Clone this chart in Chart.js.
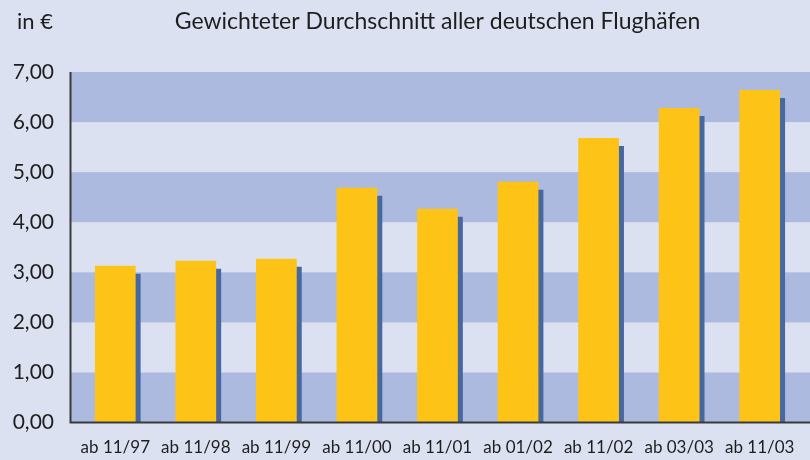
<!DOCTYPE html>
<html>
<head>
<meta charset="utf-8">
<script src="https://cdn.jsdelivr.net/npm/chart.js@4"></script>
<style>
  html, body { margin: 0; padding: 0; background: #dbe1f1; }
  #wrap { width: 810px; height: 460px; }
</style>
</head>
<body>
<div id="wrap"><canvas id="chart"></canvas></div>
<script>
const labels = ['ab 11/97', 'ab 11/98', 'ab 11/99', 'ab 11/00', 'ab 11/01', 'ab 01/02', 'ab 11/02', 'ab 03/03', 'ab 11/03'];
const charges = [3.13, 3.23, 3.27, 4.69, 4.27, 4.81, 5.68, 6.28, 6.64];
const titleText = 'Gewichteter Durchschnitt aller deutschen Flughäfen';
const unitText = 'in €';

const bgLight = '#dbe1f1';
const bgDark = '#adbadf';
const barYellow = '#fec317';
const shadowBlue = '#46679f';
const textColor = '#1e1e1e';
const fontFamily = 'Lato, sans-serif';

// bands behind the plot + background
const bandPlugin = {
    id: 'bands',
    beforeDraw(chart) {
        const { ctx, chartArea, scales } = chart;
        const y = scales.y;
        ctx.save();
        ctx.fillStyle = bgLight;
        ctx.fillRect(0, 0, chart.width, chart.height);
        const left = chartArea.left - 4;
        for (let v = 0; v < 7; v += 2) {
            const top = y.getPixelForValue(v + 1);
            const bottom = y.getPixelForValue(v);
            ctx.fillStyle = bgDark;
            ctx.fillRect(left, top, chart.width - left, bottom - top);
        }
        ctx.restore();
    },
    beforeDatasetsDraw(chart) {
        // flat drop shadow of the bars
        const ctx = chart.ctx;
        ctx.save();
        ctx.shadowColor = shadowBlue;
        ctx.shadowOffsetX = 5;
        ctx.shadowOffsetY = 8;
        ctx.shadowBlur = 0;
    },
    afterDatasetsDraw(chart) {
        const { ctx, chartArea, scales } = chart;
        ctx.restore();
        const x0 = chartArea.left - 4.5;
        const yBottom = scales.y.getPixelForValue(0);
        const yTop = scales.y.getPixelForValue(7);
        ctx.save();
        ctx.strokeStyle = '#3a3a3a';
        ctx.lineWidth = 2;
        ctx.beginPath();
        ctx.moveTo(x0, yTop);
        ctx.lineTo(x0, yBottom);
        ctx.moveTo(x0 - 1, yBottom);
        ctx.lineTo(chart.width, yBottom);
        ctx.stroke();
        ctx.restore();
    },
    afterDraw(chart) {
        const ctx = chart.ctx;
        ctx.save();
        ctx.fillStyle = textColor;
        ctx.font = '22px ' + fontFamily;
        ctx.textBaseline = 'middle';
        ctx.textAlign = 'left';
        ctx.fillText(unitText, 17, 22);
        ctx.restore();
    }
};

new Chart(document.getElementById('chart'), {
    type: 'bar',
    data: {
        labels: labels,
        datasets: [{
            data: charges,
            backgroundColor: barYellow,
            borderWidth: 0,
            categoryPercentage: 1,
            barPercentage: 0.505
        }]
    },
    options: {
        responsive: true,
        maintainAspectRatio: false,
        animation: false,
        layout: { padding: { left: 0, right: 4, top: 0, bottom: -13 } },
        plugins: {
            legend: { display: false },
            tooltip: { enabled: false },
            title: {
                display: true,
                text: titleText,
                fullSize: false,
                color: textColor,
                font: { family: fontFamily, size: 23, weight: 'normal', lineHeight: 1.2 },
                padding: { top: 7.5, bottom: 36.9 }
            }
        },
        scales: {
            x: {
                grid: { display: false, drawTicks: false },
                border: { display: false },
                ticks: {
                    color: textColor,
                    padding: 15,
                    maxRotation: 0,
                    font: { family: fontFamily, size: 17 }
                }
            },
            y: {
                min: 0,
                max: 7,
                grid: { display: false, drawTicks: false },
                border: { display: false },
                afterFit(scale) { scale.width = 75; },
                ticks: {
                    stepSize: 1,
                    color: textColor,
                    padding: 21,
                    font: { family: fontFamily, size: 21 },
                    callback: (v) => v.toFixed(2).replace('.', ',')
                }
            }
        }
    },
    plugins: [bandPlugin]
});
</script>
</body>
</html>
